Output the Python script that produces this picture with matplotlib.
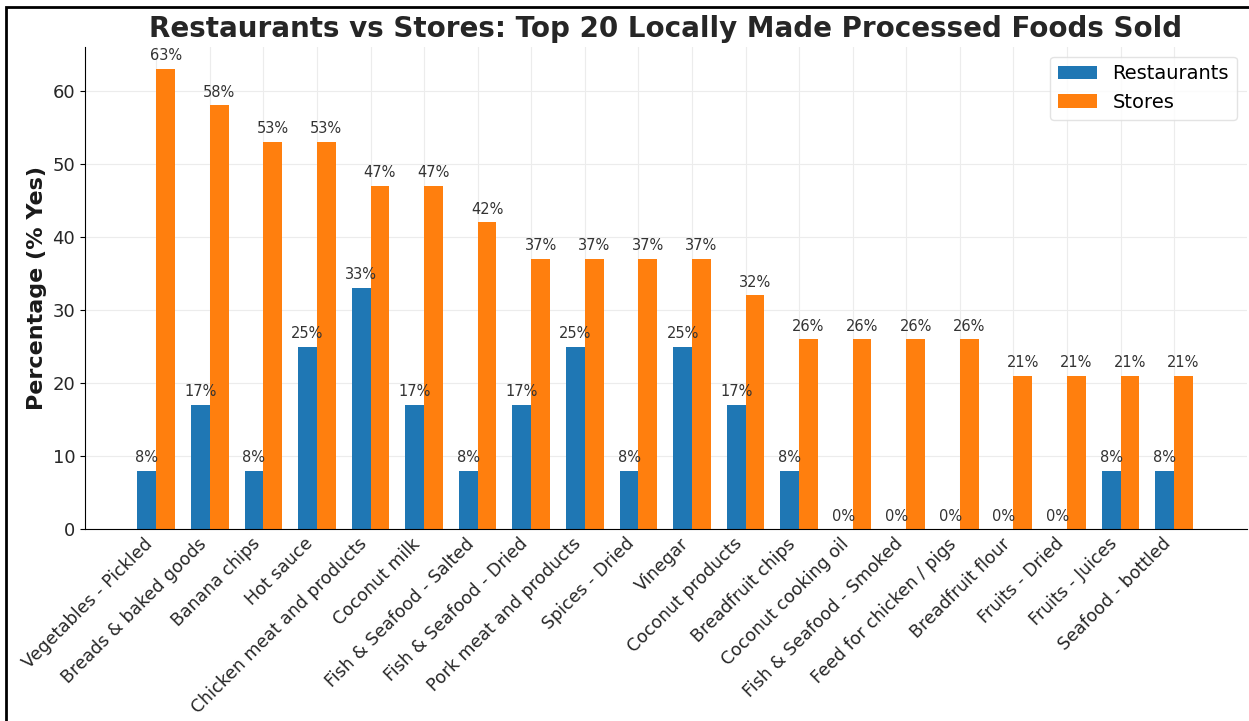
import numpy as np
import matplotlib
matplotlib.use("Agg")
from matplotlib import pyplot as plt
from matplotlib.patches import Rectangle

categories = [
    "Vegetables - Pickled", "Breads & baked goods", "Banana chips", "Hot sauce",
    "Chicken meat and products", "Coconut milk", "Fish & Seafood - Salted",
    "Fish & Seafood - Dried", "Pork meat and products", "Spices - Dried",
    "Vinegar", "Coconut products", "Breadfruit chips", "Coconut cooking oil",
    "Fish & Seafood - Smoked", "Feed for chicken / pigs", "Breadfruit flour",
    "Fruits - Dried", "Fruits - Juices", "Seafood - bottled",
]
restaurants = [8, 17, 8, 25, 33, 17, 8, 17, 25, 8, 25, 17, 8, 0, 0, 0, 0, 0, 8, 8]
stores = [63, 58, 53, 53, 47, 47, 42, 37, 37, 37, 37, 32, 26, 26, 26, 26, 21, 21, 21, 21]

fig = plt.figure(figsize=(12.49, 7.21), dpi=100)
ax = fig.add_axes([0.068, 0.266, 0.930, 0.669])

# outer frame around the whole figure
fig.patches.append(Rectangle((0.005, -0.01), 1.2, 1.0, transform=fig.transFigure,
                             fill=False, edgecolor="black", linewidth=2))

x = np.arange(len(categories))
width = 0.35
bars_r = ax.bar(x - width / 2, restaurants, width, color="#1f77b4", label="Restaurants")
bars_s = ax.bar(x + width / 2, stores, width, color="#ff7f0e", label="Stores")

for bars in (bars_r, bars_s):
    for b in bars:
        h = b.get_height()
        ax.annotate(f"{h:.0f}%", (b.get_x() + b.get_width() / 2, h),
                    xytext=(0, 4), textcoords="offset points",
                    ha="center", va="bottom", fontsize=10.5, color="#333333")

ax.set_xlim(-1.33, 20.35)
ax.set_ylim(0, 66)
ax.set_xticks(x)
ax.set_xticklabels(categories, rotation=45, ha="right", fontsize=12.5, color="#262626")
ax.tick_params(axis="y", labelsize=13, labelcolor="#262626")
ax.tick_params(axis="x", length=0, pad=4)
ax.set_ylabel("Percentage (% Yes)", fontsize=16, fontweight="bold", color="#1a1a1a")
ax.set_title("Restaurants vs Stores: Top 20 Locally Made Processed Foods Sold",
             fontsize=20, fontweight="bold", color="#262626", pad=7)

ax.grid(True, color="#ececec", linewidth=0.8)
ax.set_axisbelow(True)
for side in ("top", "right"):
    ax.spines[side].set_visible(False)

ax.legend(loc="upper right", fontsize=14, frameon=True, edgecolor="#dddddd")

fig.savefig("out.png", dpi=100)
